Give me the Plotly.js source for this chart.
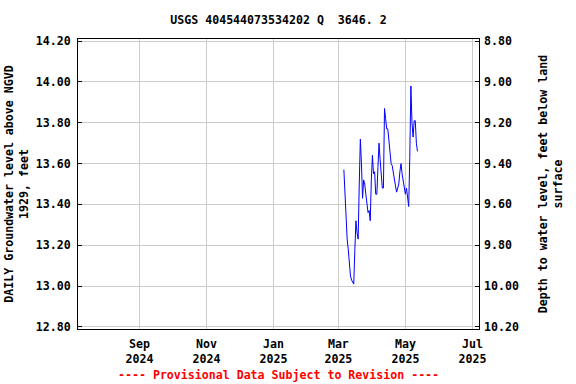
<!DOCTYPE html>
<html>
<head>
<meta charset="utf-8">
<script src="https://cdn.plot.ly/plotly-3.0.1.min.js"></script>
<style>html,body{margin:0;padding:0;background:#fff;}#chart{width:576px;height:384px;}</style>
</head>
<body>
<div id="chart"></div>
<script>
// Daily groundwater level (feet above NGVD 1929)
const dates = [
  "2025-03-06","2025-03-07","2025-03-08","2025-03-09","2025-03-10","2025-03-11","2025-03-12","2025-03-13",
  "2025-03-14","2025-03-15","2025-03-16","2025-03-17","2025-03-18","2025-03-19","2025-03-20","2025-03-21",
  "2025-03-22","2025-03-23","2025-03-24","2025-03-25","2025-03-26","2025-03-27","2025-03-28","2025-03-29",
  "2025-03-30","2025-03-31","2025-04-01","2025-04-02","2025-04-03","2025-04-04","2025-04-05","2025-04-06",
  "2025-04-07","2025-04-08","2025-04-09","2025-04-10","2025-04-11","2025-04-12","2025-04-13","2025-04-14",
  "2025-04-15","2025-04-16","2025-04-17","2025-04-18","2025-04-19","2025-04-20","2025-04-21","2025-04-22",
  "2025-04-23","2025-04-24","2025-04-25","2025-04-26","2025-04-27","2025-04-28","2025-04-29","2025-04-30",
  "2025-05-01","2025-05-02","2025-05-03","2025-05-04","2025-05-05","2025-05-06","2025-05-07","2025-05-08",
  "2025-05-09","2025-05-10","2025-05-11","2025-05-12"
];
const levels = [
  13.57,13.46,13.31,13.23,13.18,13.11,13.05,13.03,
  13.02,13.01,13.18,13.32,13.26,13.23,13.50,13.72,
  13.60,13.43,13.52,13.50,13.45,13.40,13.36,13.37,
  13.32,13.52,13.64,13.55,13.56,13.45,13.45,13.58,
  13.70,13.62,13.53,13.48,13.48,13.87,13.82,13.77,
  13.77,13.71,13.62,13.60,13.59,13.55,13.52,13.49,
  13.46,13.49,13.50,13.56,13.60,13.55,13.51,13.48,
  13.45,13.48,13.42,13.39,13.63,13.98,13.80,13.73,
  13.81,13.81,13.70,13.66
];
// Depth to water below land surface = land surface datum - level
const landSurface = 23.0;
const depths = levels.map(v => +(landSurface - v).toFixed(2));

const xTickVals = ["2024-09-01","2024-11-01","2025-01-01","2025-03-01","2025-05-01","2025-07-01"];
const xTickText = ["Sep<br>2024","Nov<br>2024","Jan<br>2025","Mar<br>2025","May<br>2025","Jul<br>2025"];
const yTickVals = [12.8,13.0,13.2,13.4,13.6,13.8,14.0,14.2];
const yTickText = ["12.80","13.00","13.20","13.40","13.60","13.80","14.00","14.20"];
const y2TickVals = [8.8,9.0,9.2,9.4,9.6,9.8,10.0,10.2];
const y2TickText = ["8.80","9.00","9.20","9.40","9.60","9.80","10.00","10.20"];

const FONT = "DejaVu Sans Mono, monospace";
const fnt = {family: FONT, size: 11.6, color: "#000", weight: "bold"};

const traces = [
  {x: dates, y: levels, type: "scatter", mode: "lines",
   line: {color: "#0000FF", width: 1}, hoverinfo: "skip", showlegend: false},
  {x: dates, y: depths, type: "scatter", mode: "lines", yaxis: "y2",
   line: {color: "rgba(0,0,0,0)", width: 0}, hoverinfo: "skip", showlegend: false}
];

const layout = {
  width: 576, height: 384,
  margin: {l: 78, r: 97, t: 39, b: 55, pad: 0},
  paper_bgcolor: "#fff", plot_bgcolor: "#fff",
  font: fnt,
  showlegend: false,
  title: {text: "USGS 404544073534202 Q  3646. 2", font: fnt,
          x: 0.4835, xanchor: "center", y: 0.947, yanchor: "middle"},
  xaxis: {
    type: "date", range: ["2024-07-07", "2025-07-07"],
    tickmode: "array", tickvals: xTickVals, ticktext: xTickText,
    showgrid: true, gridcolor: "#cccccc", gridwidth: 1,
    showline: true, linecolor: "#000", linewidth: 1, mirror: true,
    ticks: "", zeroline: false, tickfont: fnt, ticklabelstandoff: 4
  },
  yaxis: {
    range: [12.79, 14.21], autorange: false,
    tickmode: "array", tickvals: yTickVals, ticktext: yTickText,
    showgrid: true, gridcolor: "#cccccc", gridwidth: 1,
    showline: true, linecolor: "#000", linewidth: 1, mirror: true,
    ticks: "inside", ticklen: 4, tickcolor: "#000",
    zeroline: false, tickfont: fnt, ticklabelstandoff: 4,
    title: {text: "DAILY Groundwater level above NGVD<br>1929, feet", font: fnt, standoff: 4}
  },
  yaxis2: {
    overlaying: "y", side: "right",
    range: [10.21, 8.79], autorange: false,
    tickmode: "array", tickvals: y2TickVals, ticktext: y2TickText,
    showgrid: false, showline: false,
    ticks: "inside", ticklen: 4, tickcolor: "#000",
    zeroline: false, tickfont: fnt, ticklabelstandoff: 4,
    title: {text: "Depth to water level, feet below land<br>surface", font: fnt, standoff: 20}
  },
  annotations: [
    {text: "---- Provisional Data Subject to Revision ----", xref: "paper", yref: "paper",
     x: 0.5, y: -0.159, xanchor: "center", yanchor: "middle", showarrow: false,
     font: {family: FONT, size: 11.6, color: "#FF0000", weight: "bold"}}
  ]
};

Plotly.newPlot("chart", traces, layout, {displayModeBar: false, staticPlot: true});
</script>
</body>
</html>
